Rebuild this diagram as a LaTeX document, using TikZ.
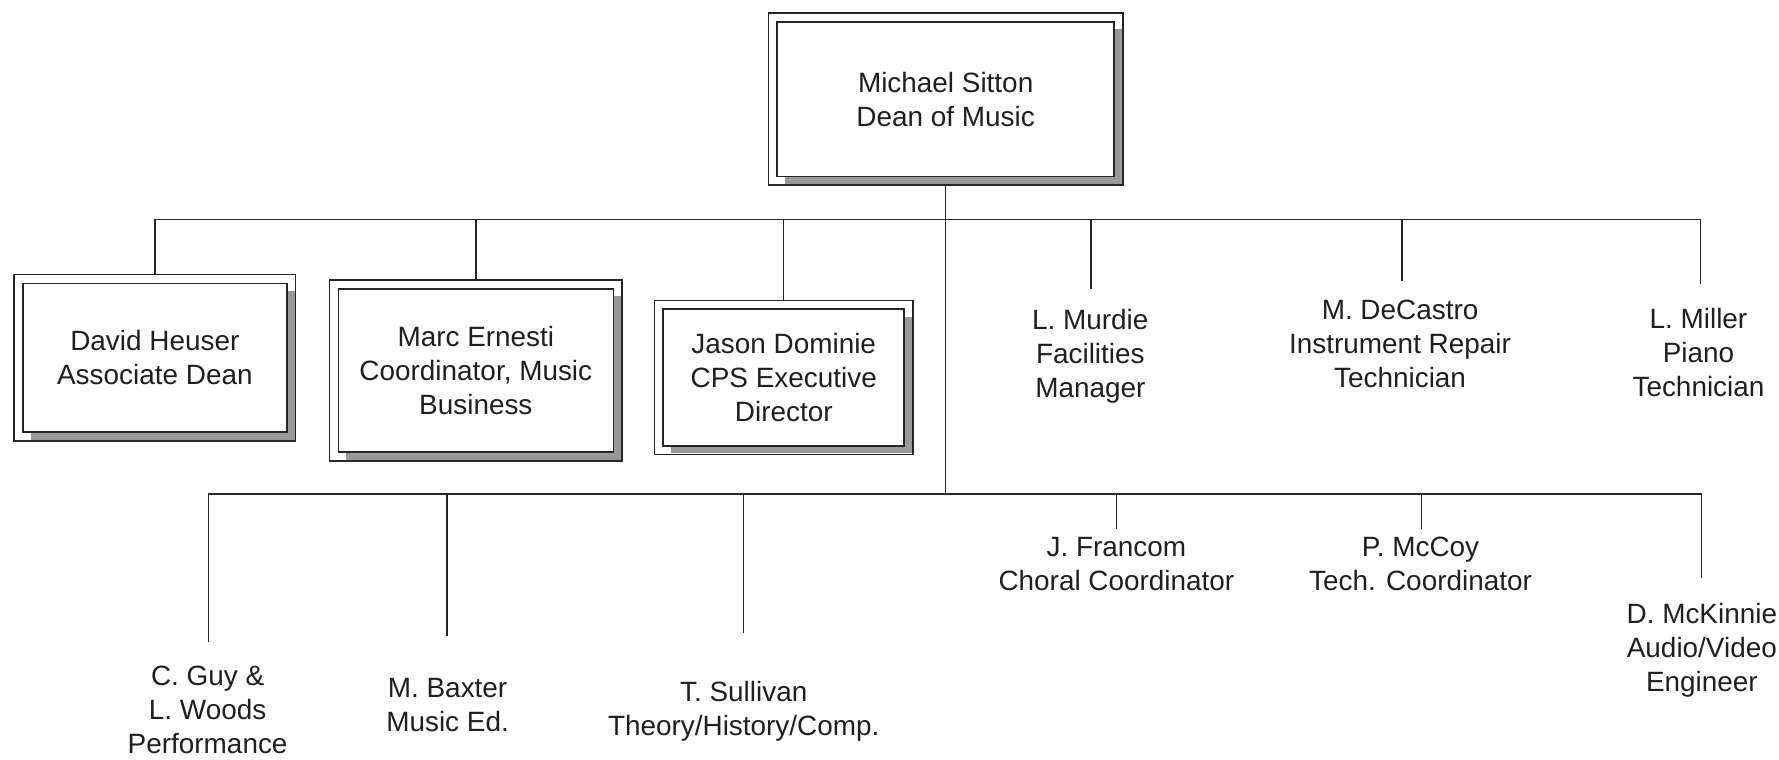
\documentclass[tikz,border=0pt]{standalone}
\usepackage{fontspec}
\setmainfont{Liberation Sans}
\usetikzlibrary{shadows,fit}

\begin{document}
\begin{tikzpicture}[%
    x=0.5pt, y=-0.5pt, % Bildpunkte der Vorlage
    font=\fontsize{12.3}{15}\selectfont,
    every node/.style={text=black!88, align=center},
    leitung/.style={draw=black!85, line width=0.6pt},
    kasten/.style={draw=black!85, line width=0.7pt, fill=white, inner sep=0pt,
        drop shadow={shadow xshift=3.5pt, shadow yshift=-3.3pt,
                     fill=black!40, opacity=1}},
    rahmen/.style={draw=black!85, line width=0.7pt, inner sep=3.5pt, outer sep=0pt}
    ]
        \useasboundingbox (0,0) rectangle (1568,669);

        % Kästen
        \node[kasten, minimum width=148.5pt, minimum height=68pt]
            (dean) at (833.5,87.4) {Michael Sitton\\Dean of Music};
        \node[kasten, minimum width=116.3pt, minimum height=65.6pt]
            (david) at (136.5,315.3) {David Heuser\\Associate Dean};
        \node[kasten, minimum width=121.2pt, minimum height=71.9pt]
            (marc) at (419.4,326.5) {Marc Ernesti\\Coordinator, Music\\Business};
        \node[kasten, minimum width=106.2pt, minimum height=60.3pt]
            (jason) at (690.8,332.7) {Jason Dominie\\CPS Executive\\Director};

        \node[rahmen, fit=(dean)]  (deanR)  {};
        \node[rahmen, fit=(david)] (davidR) {};
        \node[rahmen, fit=(marc)]  (marcR)  {};
        \node[rahmen, fit=(jason)] (jasonR) {};

        % Texte
        \node (murdie)   at (961,314)    {L. Murdie\\Facilities\\Manager};
        \node (decastro) at (1234,303)   {M. DeCastro\\Instrument Repair\\Technician};
        \node (miller)   at (1497,311)   {L. Miller\\Piano\\Technician};
        \node (francom)  at (984,497)    {J. Francom\\Choral Coordinator};
        \node (mccoy)    at (1252,497)   {P. McCoy\\Tech. Coordinator};
        \node (mckinnie) at (1500,573.5) {D. McKinnie\\Audio/Video\\Engineer};
        \node (guy)      at (183,626)    {C. Guy \&\\L. Woods\\Performance};
        \node (baxter)   at (394.5,621)  {M. Baxter\\Music Ed.};
        \node (sullivan) at (655.5,627)  {T. Sullivan\\Theory/History/Comp.};

        % Enden der Linien
        \coordinate (bus1) at (833,193.3);
        \coordinate (bus2) at (833,435.4);
        \coordinate (murdieE)   at (961.5,255);
        \coordinate (decastroE) at (1235.6,248);
        \coordinate (millerE)   at (1498.6,250.3);
        \coordinate (francomE)  at (984.2,466.5);
        \coordinate (mccoyE)    at (1252.7,466.5);
        \coordinate (mckinnieE) at (1499.5,509);
        \coordinate (guyE)      at (183.8,565.5);
        \coordinate (baxterE)   at (394,560.5);
        \coordinate (sullivanE) at (655.5,558);

        % Linien
        \draw[leitung] (deanR.south) -- (deanR.south |- bus2);
        \draw[leitung] (davidR.north) |- (millerE |- bus1) -- (millerE);
        \draw[leitung] (marcR.north) -- (marcR.north |- bus1);
        \draw[leitung] (jasonR.north) -- (jasonR.north |- bus1);
        \draw[leitung] (murdieE) -- (murdieE |- bus1);
        \draw[leitung] (decastroE) -- (decastroE |- bus1);

        \draw[leitung] (guyE) |- (mckinnieE |- bus2) -- (mckinnieE);
        \draw[leitung] (baxterE) -- (baxterE |- bus2);
        \draw[leitung] (sullivanE) -- (sullivanE |- bus2);
        \draw[leitung] (francomE) -- (francomE |- bus2);
        \draw[leitung] (mccoyE) -- (mccoyE |- bus2);
\end{tikzpicture}
\end{document}
